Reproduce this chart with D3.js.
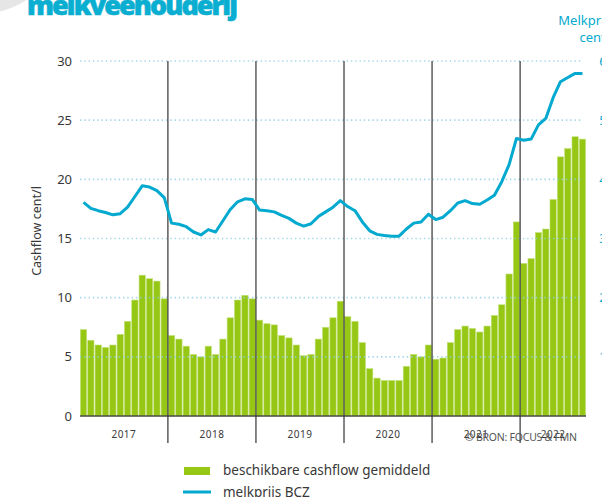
<!DOCTYPE html>
<html>
<head>
<meta charset="utf-8">
<script src="https://cdnjs.cloudflare.com/ajax/libs/d3/7.8.5/d3.min.js"></script>
<style>
body { margin:0; background:#fff; }
svg { display:block; font-family:"Noto Sans", "Open Sans", sans-serif; }
</style>
</head>
<body>
<div class="graph"></div>
<script>
var years = ["2017", "2018", "2019", "2020", "2021", "2022"];
var monthsPerYear = [12, 12, 12, 12, 12, 9];

// beschikbare cashflow gemiddeld, cent/l (left axis)
var cashflow = [
  7.3, 6.4, 6.0, 5.8, 6.0, 6.9, 8.0, 9.8, 11.9, 11.6, 11.4, 9.9,
  6.8, 6.5, 5.9, 5.2, 5.0, 5.9, 5.2, 6.5, 8.3, 9.8, 10.2, 9.9,
  8.1, 7.8, 7.7, 6.8, 6.6, 6.0, 5.1, 5.2, 6.5, 7.5, 8.3, 9.7,
  8.4, 8.0, 6.2, 4.0, 3.2, 3.0, 3.0, 3.0, 4.2, 5.2, 5.0, 6.0,
  4.8, 4.9, 6.2, 7.3, 7.6, 7.4, 7.1, 7.6, 8.5, 9.4, 12.0, 16.4,
  12.9, 13.3, 15.5, 15.8, 18.3, 21.9, 22.6, 23.6, 23.4
];

// melkprijs BCZ, cent/l (right axis)
var melkprijs = [
  36.1, 35.1, 34.7, 34.4, 34.0, 34.2, 35.3, 37.1, 38.9, 38.7, 38.1, 36.9,
  32.6, 32.4, 32.0, 31.1, 30.6, 31.5, 31.1, 33.0, 34.9, 36.2, 36.7, 36.6,
  34.8, 34.7, 34.5, 33.9, 33.4, 32.6, 32.1, 32.5, 33.7, 34.5, 35.3, 36.4,
  35.4, 34.7, 32.8, 31.3, 30.7, 30.5, 30.4, 30.4, 31.6, 32.6, 32.8, 34.1,
  33.2, 33.6, 34.7, 36.0, 36.4, 35.9, 35.8, 36.5, 37.3, 39.6, 42.5, 46.9,
  46.6, 46.8, 49.2, 50.3, 53.8, 56.5, 57.2, 57.9, 57.9
];

var leftTicks = [0, 5, 10, 15, 20, 25, 30];
var rightTicks = [0, 10, 20, 30, 40, 50, 60];
var legendLabels = ["beschikbare cashflow gemiddeld", "melkprijs BCZ"];

var green = "#95c714", cyan = "#03a9cf", textCol = "#383838";

var width = 602, height = 497;
var plotL = 80, plotR = 586, plotT = 61, plotB = 416;

var months = [];
years.forEach(function (yr, i) {
  for (var m = 1; m <= monthsPerYear[i]; m++) months.push(yr + "-" + m);
});

var x = d3.scaleBand().domain(months).range([plotL, plotR]).paddingInner(0.14).paddingOuter(0.05);
var y = d3.scaleLinear().domain([0, 30]).range([plotB, plotT]);
var y2 = d3.scaleLinear().domain([0, 60]).range([plotB, plotT]);
var step = x.step();

var svg = d3.select(".graph").append("svg").attr("width", width).attr("height", height);

// decorative corner + title (cut off at the top)
svg.append("circle").attr("cx", -20).attr("cy", -70).attr("r", 84).style("fill", "#e6e6e6");
svg.append("text").attr("x", 27).attr("y", 15).attr("textLength", 211)
  .style("font-family", "'Open Sans', sans-serif").style("font-weight", 800).style("font-size", "27px")
  .style("fill", "#0aaed1").style("stroke", "#0aaed1").style("stroke-width", 0.6)
  .text("melkveehouderij");

// bars
svg.append("g").selectAll("rect").data(cashflow).enter().append("rect")
  .attr("x", function (d, i) { return x(months[i]); })
  .attr("y", function (d) { return y(d); })
  .attr("width", x.bandwidth())
  .attr("height", function (d) { return y(0) - y(d); })
  .style("fill", green).style("stroke", "#c4e27c").style("stroke-width", 0.6);

// dotted grid
svg.append("g").selectAll("line").data(leftTicks.filter(function (d) { return d > 0; })).enter().append("line")
  .attr("x1", plotL).attr("x2", 583)
  .attr("y1", function (d) { return y(d); }).attr("y2", function (d) { return y(d); })
  .style("stroke", "#8fd0e6").style("stroke-width", 1.6).style("stroke-dasharray", "1.4,2.9")
  .style("opacity", 0.8);

// zero line
svg.append("line").attr("x1", plotL).attr("x2", plotR).attr("y1", y(0)).attr("y2", y(0))
  .style("stroke", "#4a4a4a").style("stroke-width", 1.6);

// year separators
var starts = [];
var acc = 0;
monthsPerYear.forEach(function (n) { starts.push(acc); acc += n; });
svg.append("g").selectAll("line").data(starts.slice(1)).enter().append("line")
  .attr("x1", function (d) { return x(months[d]) - step * x.paddingInner() / 2; })
  .attr("x2", function (d) { return x(months[d]) - step * x.paddingInner() / 2; })
  .attr("y1", plotT).attr("y2", 443)
  .style("stroke", "#333").style("stroke-width", 1.2);

// year labels
svg.append("g").selectAll("text").data(years).enter().append("text")
  .attr("x", function (d, i) {
    var a = x(months[starts[i]]), b = x(months[starts[i] + monthsPerYear[i] - 1]) + x.bandwidth();
    return (a + b) / 2;
  })
  .attr("y", 438).attr("text-anchor", "middle")
  .style("font-size", "10px").style("letter-spacing", "0.5px").style("fill", textCol)
  .text(function (d) { return d; });

// melkprijs line
var line = d3.line()
  .x(function (d, i) { return x(months[i]) + x.bandwidth() / 2; })
  .y(function (d) { return y2(d); });
svg.append("path").datum(melkprijs).attr("d", line)
  .style("fill", "none").style("stroke", cyan).style("stroke-width", 3).style("stroke-linejoin", "round");

// left axis labels
svg.append("g").selectAll("text").data(leftTicks).enter().append("text")
  .attr("x", 72).attr("y", function (d) { return y(d) + 4.5; }).attr("text-anchor", "end")
  .style("font-size", "13px").style("fill", textCol).text(function (d) { return d; });

svg.append("text").attr("transform", "translate(41,231) rotate(-90)").attr("text-anchor", "middle")
  .style("font-size", "12.5px").style("fill", textCol).text("Cashflow cent/l");

// right axis labels (cut off by the window)
svg.append("g").selectAll("text").data(rightTicks).enter().append("text")
  .attr("x", 614).attr("y", function (d) { return y2(d) + 4.5; }).attr("text-anchor", "end")
  .style("font-size", "13px").style("fill", cyan).text(function (d) { return d; });

svg.append("text").attr("x", 614).attr("y", 25).attr("text-anchor", "end")
  .style("font-size", "13px").style("fill", cyan).text("Melkprijs");
svg.append("text").attr("x", 614).attr("y", 42).attr("text-anchor", "end")
  .style("font-size", "13px").style("fill", cyan).text("cent/l");

// source
svg.append("text").attr("x", 465).attr("y", 441).attr("textLength", 112)
  .style("font-size", "10.5px").style("fill", "#555").text("© BRON: FOCUS & FMN");

// legend
svg.append("rect").attr("x", 184).attr("y", 467).attr("width", 26).attr("height", 8).style("fill", green);
svg.append("line").attr("x1", 183).attr("x2", 211).attr("y1", 492).attr("y2", 492)
  .style("stroke", cyan).style("stroke-width", 3);
svg.append("g").selectAll("text").data(legendLabels).enter().append("text")
  .attr("x", 223).attr("y", function (d, i) { return 475 + i * 22; })
  .style("font-size", "13.5px").style("fill", textCol).text(function (d) { return d; });
</script>
</body>
</html>
